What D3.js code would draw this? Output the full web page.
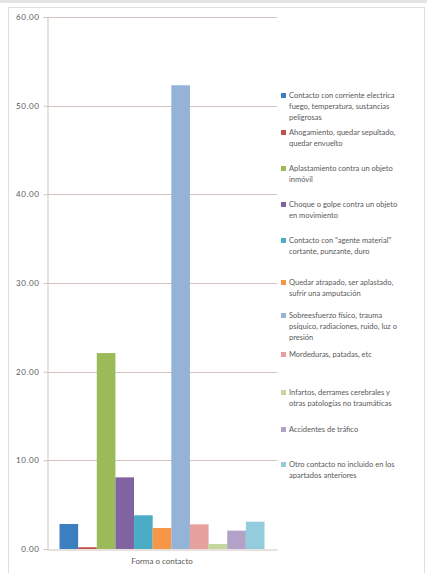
<!DOCTYPE html>
<html>
<head>
<meta charset="utf-8">
<script src="https://cdn.jsdelivr.net/npm/d3@7/dist/d3.min.js"></script>
<style>
  html, body { margin: 0; padding: 0; background: #fff; }
  svg { display: block; }
  text { font-family: Lato, "Open Sans", sans-serif; fill: #595959; }
</style>
</head>
<body>
<script>
// Forma o contacto — porcentaje por tipo
const categories = [
  "Contacto con corriente electrica, fuego, temperatura, sustancias peligrosas",
  "Ahogamiento, quedar sepultado, quedar envuelto",
  "Aplastamiento contra un objeto inmóvil",
  "Choque o golpe contra un objeto en movimiento",
  "Contacto con \"agente material\" cortante, punzante, duro",
  "Quedar atrapado, ser aplastado, sufrir una amputación",
  "Sobreesfuerzo físico, trauma psíquico, radiaciones, ruido, luz o presión",
  "Mordeduras, patadas, etc",
  "Infartos, derrames cerebrales y otras patologías no traumáticas",
  "Accidentes de tráfico",
  "Otro contacto no incluido en los apartados anteriores"
];
const legendLines = [
  ["Contacto con corriente electrica", "fuego, temperatura, sustancias", "peligrosas"],
  ["Ahogamiento, quedar sepultado,", "quedar envuelto"],
  ["Aplastamiento contra un objeto", "inmóvil"],
  ["Choque o golpe contra un objeto", "en movimiento"],
  ["Contacto con \"agente material\"", "cortante, punzante, duro"],
  ["Quedar atrapado, ser aplastado,", "sufrir una amputación"],
  ["Sobreesfuerzo físico, trauma", "psíquico, radiaciones, ruido, luz o", "presión"],
  ["Mordeduras, patadas, etc"],
  ["Infartos, derrames cerebrales y", "otras patologías no traumáticas"],
  ["Accidentes de tráfico"],
  ["Otro contacto no incluido en los", "apartados anteriores"]
];
const values = [2.82, 0.20, 22.10, 8.08, 3.80, 2.37, 52.30, 2.78, 0.56, 2.07, 3.08];
const colors = ["#3c7fc1", "#c0504d", "#9bbb59", "#8064a2", "#4bacc6", "#f79646",
                "#95b3d7", "#e6a09e", "#c3d69b", "#b2a2c7", "#93cddd"];
const groupLabel = "Forma o contacto";
const yTicks = [0, 10, 20, 30, 40, 50, 60];

const W = 427, H = 573;
const svg = d3.select("body").append("svg").attr("width", W).attr("height", H);

// page strip and chart frame
svg.append("rect").attr("x", 0).attr("y", 0).attr("width", W).attr("height", 3).attr("fill", "#e4e4e4");
svg.append("rect").attr("x", 8.5).attr("y", 7.5).attr("width", 416).attr("height", 570)
  .attr("fill", "none").attr("stroke", "#e2dedc").attr("stroke-width", 1);

const plot = { left: 47, right: 277, top: 17, bottom: 549 };

const y = d3.scaleLinear().domain([0, 60]).range([plot.bottom, plot.top]);
const xGroup = d3.scaleBand().domain([groupLabel]).range([plot.left, plot.right]).paddingInner(0).paddingOuter(0.061);
const x = d3.scaleBand().domain(d3.range(values.length))
  .range([xGroup(groupLabel), xGroup(groupLabel) + xGroup.bandwidth()]).padding(0);

// gridlines
svg.append("g")
  .selectAll("line").data(yTicks.filter(d => d > 0)).join("line")
  .attr("x1", plot.left).attr("x2", plot.right)
  .attr("y1", d => Math.round(y(d)) + 0.5).attr("y2", d => Math.round(y(d)) + 0.5)
  .attr("stroke", "#d3c2bd").attr("stroke-width", 1);

// bars
svg.append("g")
  .selectAll("rect").data(values).join("rect")
  .attr("x", (d, i) => x(i))
  .attr("y", d => y(d))
  .attr("width", x.bandwidth())
  .attr("height", d => plot.bottom - y(d))
  .attr("fill", (d, i) => colors[i]);

// y axis
const yAxis = d3.axisLeft(y).tickValues(yTicks).tickFormat(d3.format(".2f")).tickSize(4).tickPadding(4);
const gy = svg.append("g").attr("transform", `translate(${plot.left + 0.5},0)`).call(yAxis);
gy.selectAll(".domain").attr("stroke", "#d3c2bd");
gy.selectAll(".tick line").attr("stroke", "#d3c2bd");
gy.selectAll(".tick text").attr("font-size", 8).attr("letter-spacing", "0.6px")
  .attr("fill", "#606060").style("font-family", "Lato, sans-serif");

// x axis
const xAxis = d3.axisBottom(xGroup).tickSize(0).tickPadding(9);
const gx = svg.append("g").attr("transform", `translate(0,${plot.bottom + 0.5})`).call(xAxis);
gx.select(".domain").attr("stroke", "#d3c2bd");
gx.selectAll(".tick text").attr("font-size", 8).attr("fill", "#404040").style("font-family", "Lato, sans-serif");

// legend
const legendY = [96, 133, 169, 205, 241, 283, 316, 355, 393, 430, 465];
const lg = svg.append("g").selectAll("g").data(categories).join("g")
  .attr("transform", (d, i) => `translate(281,${legendY[i]})`);
lg.append("rect").attr("x", 0).attr("y", -3).attr("width", 5).attr("height", 5)
  .attr("fill", (d, i) => colors[i]);
lg.append("text").attr("font-size", 7.5).attr("fill", "#666")
  .selectAll("tspan").data((d, i) => legendLines[i]).join("tspan")
  .attr("x", 8).attr("dy", (d, j) => j === 0 ? "0.32em" : "11px")
  .text(d => d);
</script>
</body>
</html>
